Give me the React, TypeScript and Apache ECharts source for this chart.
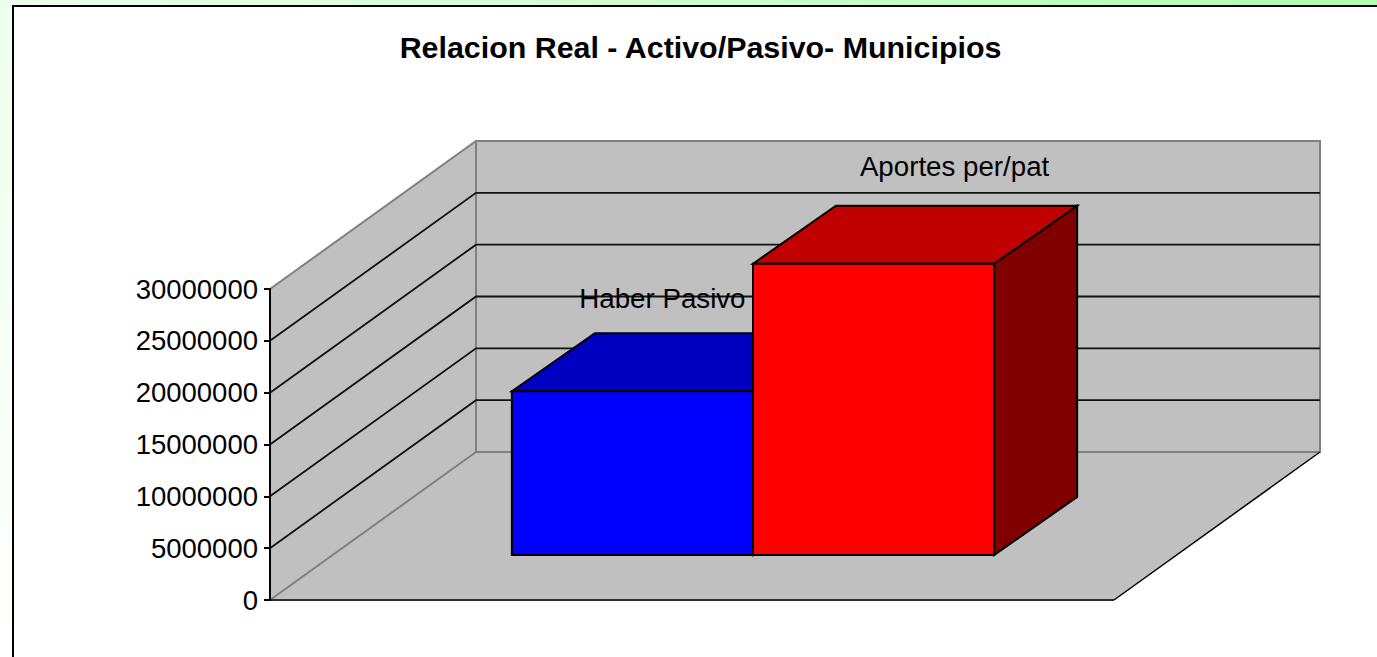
import React, { useEffect, useRef } from "react";
import * as echarts from "echarts";

const titleText = "Relacion Real - Activo/Pasivo- Municipios";
const categories = [""];
const yTicks = [0, 5000000, 10000000, 15000000, 20000000, 25000000, 30000000];
const seriesNames = ["Haber Pasivo", "Aportes per/pat"];
const haberPasivo = [15800000];
const aportesPerPat = [28100000];

const W = 1377;
const H = 657;
const DEPTH_X = 206;
const DEPTH_Y = 148;
const BAR_DX = 83;
const BAR_DY = 58;
const FRONT_DX = 61;
const FRONT_DY = 45;
const GAP_RATIO = 1.5;

const WALL = "#c0c0c0";
const EDGE = "#808080";
const INK = "#000000";
const FONT = "'Liberation Sans', Arial, sans-serif";

const renderWalls = (params: any, api: any) => {
  const cs = params.coordSys;
  const tick = api.value(1);
  const y = api.coord([0, tick])[1];
  const l = cs.x;
  const r = cs.x + cs.width;
  const t = cs.y;
  const b = cs.y + cs.height;
  const children: any[] = [];
  const isFirst = params.dataIndex === 0;
  const isLast = params.dataIndex === yTicks.length - 1;
  if (isFirst) {
    children.push(
      { type: "polygon", shape: { points: [[l, t], [l + DEPTH_X, t - DEPTH_Y], [l + DEPTH_X, b - DEPTH_Y], [l, b]] }, style: { fill: WALL } },
      { type: "polygon", shape: { points: [[l + DEPTH_X, t - DEPTH_Y], [r + DEPTH_X, t - DEPTH_Y], [r + DEPTH_X, b - DEPTH_Y], [l + DEPTH_X, b - DEPTH_Y]] }, style: { fill: WALL, stroke: EDGE, lineWidth: 2 } },
      { type: "polygon", shape: { points: [[l, b], [r, b], [r + DEPTH_X, b - DEPTH_Y], [l + DEPTH_X, b - DEPTH_Y]] }, style: { fill: WALL } },
      { type: "line", shape: { x1: l, y1: b, x2: l + DEPTH_X, y2: b - DEPTH_Y }, style: { stroke: EDGE, lineWidth: 2 } },
      { type: "line", shape: { x1: l + DEPTH_X, y1: b - DEPTH_Y, x2: r + DEPTH_X, y2: b - DEPTH_Y }, style: { stroke: EDGE, lineWidth: 2 } },
      { type: "line", shape: { x1: l, y1: b, x2: r, y2: b }, style: { stroke: "#303030", lineWidth: 2 } },
      { type: "line", shape: { x1: r, y1: b, x2: r + DEPTH_X, y2: b - DEPTH_Y }, style: { stroke: INK, lineWidth: 1.5 } }
    );
  } else {
    children.push({
      type: "polyline",
      shape: { points: [[l, y], [l + DEPTH_X, y - DEPTH_Y], [r + DEPTH_X, y - DEPTH_Y]] },
      style: { fill: "none", stroke: isLast ? EDGE : "#101010", lineWidth: isLast ? 2 : 1.8 },
    });
  }
  return { type: "group", children };
};

const makeBar = (index: number, front: string, top: string, side: string, labelDx: number, labelDy: number) =>
  (params: any, api: any) => {
    const cs = params.coordSys;
    const bw = cs.width / (seriesNames.length + GAP_RATIO);
    const base = api.coord([api.value(0), 0]);
    const head = api.coord([api.value(0), api.value(1)]);
    const x0 = base[0] + FRONT_DX - bw + index * bw;
    const x1 = x0 + bw;
    const yb = base[1] - FRONT_DY;
    const yt = head[1] - FRONT_DY;
    const stroke = { stroke: INK, lineWidth: 2, lineJoin: "miter" };
    return {
      type: "group",
      children: [
        { type: "polygon", shape: { points: [[x1, yt], [x1 + BAR_DX, yt - BAR_DY], [x1 + BAR_DX, yb - BAR_DY], [x1, yb]] }, style: { fill: side, ...stroke } },
        { type: "polygon", shape: { points: [[x0, yt], [x0 + BAR_DX, yt - BAR_DY], [x1 + BAR_DX, yt - BAR_DY], [x1, yt]] }, style: { fill: top, ...stroke } },
        { type: "polygon", shape: { points: [[x0, yt], [x1, yt], [x1, yb], [x0, yb]] }, style: { fill: front, ...stroke } },
        {
          type: "text",
          style: {
            x: (x0 + x1) / 2 + labelDx,
            y: yt + labelDy,
            text: seriesNames[index],
            fill: INK,
            font: `27.7px ${FONT}`,
            textAlign: "center",
            textVerticalAlign: "middle",
          },
        },
      ],
    };
  };

export default function App() {
  const ref = useRef<HTMLDivElement>(null);

  useEffect(() => {
    const chart = echarts.init(ref.current!, undefined, { renderer: "svg", width: W, height: H });
    chart.setOption({
      animation: false,
      backgroundColor: {
        type: "linear",
        global: true,
        x: 0,
        y: 657,
        x2: 1298,
        y2: -176,
        colorStops: [
          { offset: 0, color: "#ffffff" },
          { offset: 1, color: "#aeffae" },
        ],
      },
      title: {
        text: titleText,
        left: 695.5,
        top: 27,
        textAlign: "center",
        textStyle: { fontFamily: FONT, fontSize: 30.4, fontWeight: "bold", color: INK },
      },
      graphic: [
        {
          type: "rect",
          z: -10,
          silent: true,
          shape: { x: 13, y: 6, width: W + 20, height: H + 20 },
          style: { fill: "#ffffff", stroke: INK, lineWidth: 2 },
        },
      ],
      grid: { left: 270, top: 289, width: 844, height: 311, containLabel: false },
      xAxis: { type: "category", data: categories, show: false },
      yAxis: {
        type: "value",
        min: 0,
        max: 30000000,
        interval: 5000000,
        z: 5,
        axisLine: { show: true, lineStyle: { color: INK, width: 2 } },
        axisTick: { show: true, length: 6, lineStyle: { color: INK, width: 2 } },
        axisLabel: { fontFamily: FONT, fontSize: 27.5, color: INK, margin: 12, formatter: (v: number) => String(v) },
        splitLine: { show: false },
      },
      series: [
        {
          type: "custom",
          name: "walls",
          z: 1,
          renderItem: renderWalls,
          encode: { x: 0, y: 1 },
          data: yTicks.map((t) => [0, t]),
          silent: true,
        },
        {
          type: "custom",
          name: seriesNames[0],
          z: 2,
          renderItem: makeBar(0, "#0000ff", "#0000c0", "#000080", 30, -92.5),
          encode: { x: 0, y: 1 },
          data: haberPasivo.map((v, i) => [i, v]),
        },
        {
          type: "custom",
          name: seriesNames[1],
          z: 3,
          renderItem: makeBar(1, "#ff0000", "#c00000", "#800000", 81, -97.5),
          encode: { x: 0, y: 1 },
          data: aportesPerPat.map((v, i) => [i, v]),
        },
      ],
    });
    return () => chart.dispose();
  }, []);

  return <div ref={ref} style={{ position: "fixed", left: 0, top: 0, width: W, height: H }} />;
}
